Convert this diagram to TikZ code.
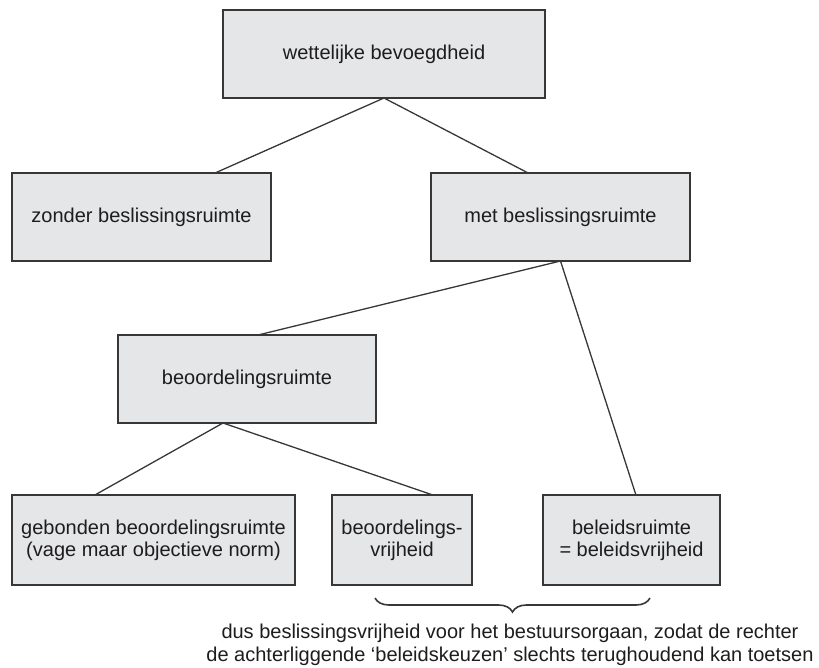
\documentclass[tikz,border=0pt]{standalone}
\usepackage{fontspec}
\setmainfont{Liberation Sans}
\usetikzlibrary{calc,decorations.pathreplacing}
\definecolor{boxfill}{RGB}{229,230,231}
\definecolor{boxline}{RGB}{55,55,55}
\definecolor{txt}{RGB}{30,28,30}
\begin{document}
\begin{tikzpicture}[x=1pt,y=-1pt,
  box/.style={draw=boxline, fill=boxfill, line width=1.4pt, inner sep=0pt, outer sep=0pt,
    align=center, text=txt, font=\fontsize{20}{22}\selectfont},
  conn/.style={draw=boxline, line width=1.3pt},
  bracestyle/.style={draw=boxline, line width=1.6pt, decorate,
    decoration={brace, mirror, amplitude=14pt, raise=0pt}}]
\useasboundingbox (0,0) rectangle (819,668);
\node[box, minimum width=322pt, minimum height=88pt] (top) at (384,54) {wettelijke bevoegdheid};
\node[box, minimum width=259pt, minimum height=88pt] (zonder) at (141.5,217) {zonder beslissingsruimte};
\node[box, minimum width=259pt, minimum height=88pt] (met) at (560.5,217) {met beslissingsruimte};
\node[box, minimum width=258pt, minimum height=88pt] (beoord) at (247,379) {beoordelingsruimte};
\node[box, minimum width=283pt, minimum height=90pt] (gebonden) at (153.5,540) {gebonden beoordelingsruimte\\(vage maar objectieve norm)};
\node[box, minimum width=140pt, minimum height=90pt] (vrij) at (402,540) {beoordelings-\\vrijheid};
\node[box, minimum width=177pt, minimum height=90pt] (beleid) at (631.5,540) {beleidsruimte\\= beleidsvrijheid};

\draw[conn] (top.south) -- ($(zonder.north west)!0.784!(zonder.north east)$);
\draw[conn] (top.south) -- ($(met.north west)!0.375!(met.north east)$);
\draw[conn] (met.south) -- ($(beoord.north west)!0.543!(beoord.north east)$);
\draw[conn] (met.south) -- ($(beleid.north west)!0.525!(beleid.north east)$);
\draw[conn] ($(beoord.south west)!0.407!(beoord.south east)$) -- ($(gebonden.north west)!0.293!(gebonden.north east)$);
\draw[conn] ($(beoord.south west)!0.407!(beoord.south east)$) -- ($(vrij.north west)!0.72!(vrij.north east)$);

\coordinate (bl) at (375,598);
\coordinate (br) at (650,598);
\draw[bracestyle] (bl) -- (br);
\node[align=center, text=txt, font=\fontsize{20}{22.5}\selectfont, inner sep=0pt] (note) at (510,645)
  {dus beslissingsvrijheid voor het bestuursorgaan, zodat de rechter\\de achterliggende ‘beleidskeuzen’ slechts terughoudend kan toetsen};
\end{tikzpicture}
\end{document}
